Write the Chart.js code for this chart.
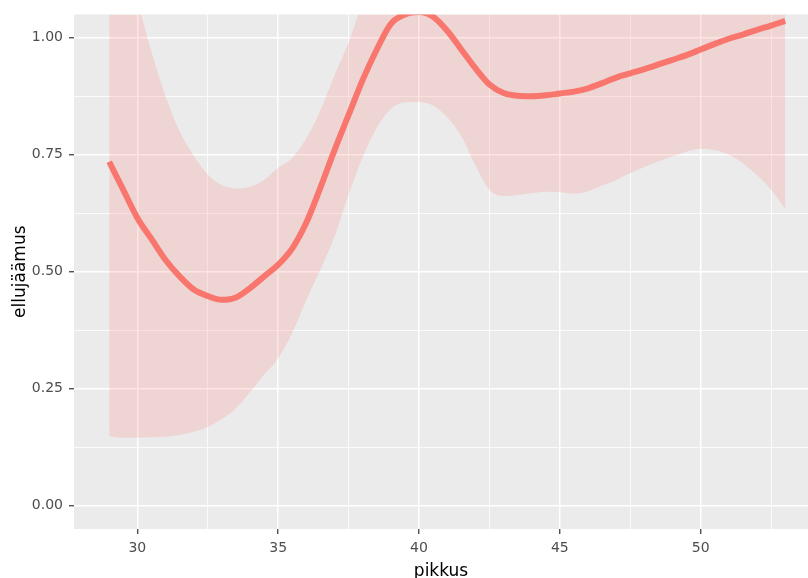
<!DOCTYPE html>
<html>
<head>
<meta charset="utf-8">
<script src="https://cdn.jsdelivr.net/npm/chart.js@4/dist/chart.umd.min.js"></script>
<style>
  html, body { margin: 0; padding: 0; background: #fff; overflow: hidden; }
  #wrap { width: 808px; height: 578px; }
</style>
</head>
<body>
<div id="wrap"><canvas id="chart" width="808" height="578"></canvas></div>
<script>
// pikkus (x) and the smoothed fit with its confidence band
const pikkus = [29, 29.5, 30, 30.5, 31, 31.5, 32, 32.5, 33, 33.5, 34, 34.5, 35, 35.5, 36, 36.5, 37, 37.5, 38, 38.5,
  39, 39.5, 40, 40.5, 41, 41.5, 42, 42.5, 43, 43.5, 44, 44.5, 45, 45.5, 46, 46.5, 47, 47.5, 48, 48.5,
  49, 49.5, 50, 50.5, 51, 51.5, 52, 52.5, 53]
const sovitus = [0.735, 0.675, 0.615, 0.57, 0.525, 0.49, 0.462, 0.448, 0.44, 0.445, 0.465, 0.49, 0.515, 0.55, 0.605, 0.68, 0.76, 0.835, 0.91, 0.975,
  1.03, 1.05, 1.055, 1.045, 1.015, 0.975, 0.935, 0.9, 0.882, 0.876, 0.875, 0.877, 0.881, 0.885, 0.892, 0.903, 0.915, 0.924, 0.933, 0.943,
  0.953, 0.963, 0.975, 0.987, 0.998, 1.007, 1.017, 1.026, 1.036]
const alaraja = [0.148, 0.145, 0.145, 0.146, 0.147, 0.151, 0.158, 0.168, 0.185, 0.208, 0.243, 0.28, 0.315, 0.37, 0.44, 0.505, 0.575, 0.665, 0.745, 0.808,
  0.848, 0.862, 0.863, 0.855, 0.83, 0.79, 0.728, 0.675, 0.662, 0.664, 0.668, 0.671, 0.67, 0.667, 0.672, 0.684, 0.696, 0.711, 0.724, 0.736,
  0.746, 0.757, 0.763, 0.76, 0.75, 0.732, 0.706, 0.675, 0.635]
const ylaraja = [1.32, 1.2, 1.08, 0.97, 0.875, 0.8, 0.748, 0.708, 0.685, 0.678, 0.681, 0.696, 0.722, 0.743, 0.785, 0.845, 0.92, 0.99, 1.075, 1.142,
  1.212, 1.238, 1.247, 1.235, 1.2, 1.16, 1.142, 1.125, 1.102, 1.088, 1.082, 1.083, 1.092, 1.103, 1.112, 1.122, 1.134, 1.137, 1.142, 1.15,
  1.16, 1.169, 1.187, 1.214, 1.246, 1.282, 1.328, 1.377, 1.437]

const xTicks = [30, 32.5, 35, 37.5, 40, 42.5, 45, 47.5, 50, 52.5]
const yTicks = [0, 0.125, 0.25, 0.375, 0.5, 0.625, 0.75, 0.875, 1]

const red = '#F8766D'
const band = 'rgba(248, 118, 109, 0.2)'
const fontFam = 'DejaVu Sans, Liberation Sans, sans-serif'

const toPoints = arr => pikkus.map((x, i) => ({ x: x, y: arr[i] }))

const isMajorX = v => v % 5 === 0
const isMajorY = v => Math.abs(v * 4 - Math.round(v * 4)) < 1e-9

// ggplot style grey panel
const panelBg = {
    id: 'panelBg',
    beforeDraw(chart) {
        const a = chart.chartArea
        const c = chart.ctx
        c.save()
        c.fillStyle = '#EBEBEB'
        c.fillRect(a.left, a.top, a.right - a.left, a.bottom - a.top)
        c.restore()
    }
}

const gridOpts = isMajor => ({
    color: '#FFFFFF',
    lineWidth: ctx => ctx.tick && isMajor(ctx.tick.value) ? 1.5 : 0.8,
    tickColor: ctx => ctx.tick && isMajor(ctx.tick.value) ? '#333333' : 'rgba(0,0,0,0)',
    tickWidth: 1.2,
    tickLength: 5,
    drawTicks: true
})

const ctx = document.getElementById('chart').getContext('2d')

new Chart(ctx, {
    type: 'line',
    data: {
        datasets: [
            {
                label: 'sovitus',
                data: toPoints(sovitus),
                borderColor: red,
                borderWidth: 6,
                pointRadius: 0,
                fill: false,
                cubicInterpolationMode: 'monotone',
                clip: 0,
                order: 0
            },
            {
                label: 'ylaraja',
                data: toPoints(ylaraja),
                borderWidth: 0,
                borderColor: 'rgba(0,0,0,0)',
                pointRadius: 0,
                backgroundColor: band,
                fill: '+1',
                cubicInterpolationMode: 'monotone',
                clip: 0,
                order: 2
            },
            {
                label: 'alaraja',
                data: toPoints(alaraja),
                borderWidth: 0,
                borderColor: 'rgba(0,0,0,0)',
                pointRadius: 0,
                fill: false,
                cubicInterpolationMode: 'monotone',
                clip: 0,
                order: 3
            }
        ]
    },
    options: {
        responsive: false,
        animation: false,
        layout: { padding: { top: 12, right: 0, bottom: 0, left: 0 } },
        plugins: {
            legend: { display: false },
            tooltip: { enabled: false }
        },
        scales: {
            x: {
                type: 'linear',
                min: 27.75,
                max: 53.81,
                afterBuildTicks: s => { s.ticks = xTicks.map(v => ({ value: v })) },
                afterFit: s => { s.height = 49 },
                grid: gridOpts(isMajorX),
                border: { display: false },
                ticks: {
                    autoSkip: false,
                    maxRotation: 0,
                    padding: 6,
                    color: '#4D4D4D',
                    font: { family: fontFam, size: 14 },
                    callback: v => isMajorX(v) ? String(v) : ''
                },
                title: {
                    display: true,
                    text: 'pikkus',
                    color: '#000000',
                    font: { family: fontFam, size: 17, lineHeight: 0.75 },
                    padding: { top: 0, bottom: 0 }
                }
            },
            y: {
                type: 'linear',
                min: -0.05,
                max: 1.05,
                afterBuildTicks: s => { s.ticks = yTicks.map(v => ({ value: v })) },
                afterFit: s => { s.width = 74 },
                grid: gridOpts(isMajorY),
                border: { display: false },
                ticks: {
                    autoSkip: false,
                    padding: 6,
                    color: '#4D4D4D',
                    font: { family: fontFam, size: 14 },
                    callback: v => isMajorY(v) ? v.toFixed(2) : ''
                },
                title: {
                    display: true,
                    text: 'ellujäämus',
                    color: '#000000',
                    font: { family: fontFam, size: 17 },
                    padding: { top: 10, bottom: 0 }
                }
            }
        }
    },
    plugins: [panelBg]
})
</script>
</body>
</html>
